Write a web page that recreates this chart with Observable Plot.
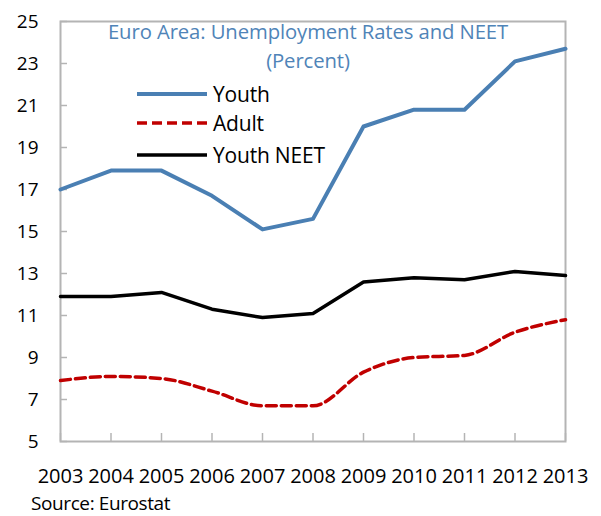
<!DOCTYPE html>
<html><head><meta charset="utf-8">
<script src="https://cdn.jsdelivr.net/npm/d3@7"></script>
<script src="https://cdn.jsdelivr.net/npm/@observablehq/plot@0.6"></script>
<style>
body{margin:0;background:#fff;font-family:"Open Sans",sans-serif;}
#wrap{position:relative;width:601px;height:516px;overflow:hidden;}
#title{position:absolute;left:60px;width:496px;top:16.5px;text-align:center;color:#4f84b8;font-size:20.3px;line-height:29px;letter-spacing:-0.1px;}
#source{position:absolute;left:31px;top:494px;font-size:19px;line-height:19px;color:#000;letter-spacing:-0.4px;}
#legend{position:absolute;left:0;top:0;}
</style>
</head><body>
<div id="wrap">
  <div id="chart"></div>
  <div id="title">Euro Area: Unemployment Rates and NEET<br>(Percent)</div>
  <svg id="legend" width="601" height="200"></svg>
  <div id="source">Source: Eurostat</div>
</div>
<script>
const years = [2003, 2004, 2005, 2006, 2007, 2008, 2009, 2010, 2011, 2012, 2013];
const youth = [17.0, 17.9, 17.9, 16.7, 15.1, 15.6, 20.0, 20.8, 20.8, 23.1, 23.7];
const adult = [7.9, 8.1, 8.0, 7.4, 6.7, 6.7, 8.3, 9.0, 9.1, 10.2, 10.8];
const youthNeet = [11.9, 11.9, 12.1, 11.3, 10.9, 11.1, 12.6, 12.8, 12.7, 13.1, 12.9];
const yTicks = [5, 7, 9, 11, 13, 15, 17, 19, 21, 23, 25];
const seriesNames = ["Youth", "Adult", "Youth NEET"];
const seriesColors = ["#4a7fb3", "#c00000", "#000000"];
const seriesDash = [null, "10,5", null];
const seriesWidth = [4, 3.5, 3.5];

const toRows = vals => years.map((y, i) => ({year: y, value: vals[i]}));

const axisColor = "#b4b4b4";
const plot = Plot.plot({
  width: 601,
  height: 516,
  marginTop: 21,
  marginBottom: 75,
  marginLeft: 60,
  marginRight: 36,
  style: {fontFamily: "Open Sans, sans-serif", background: "#fff"},
  x: {domain: [2003, 2013]},
  y: {domain: [5, 25]},
  marks: [
    Plot.frame({stroke: axisColor, strokeWidth: 2}),
    Plot.axisY({ticks: yTicks, tickSize: -7, tickPadding: 29, stroke: axisColor, strokeWidth: 1.5, fontSize: 19, color: "#000", label: null, tickFormat: d => String(d)}),
    Plot.axisX({ticks: years, tickSize: -8, tickPadding: 35, stroke: axisColor, strokeWidth: 1.5, fontSize: 20, color: "#000", label: null, tickFormat: d => String(d)}),
    Plot.line(toRows(youthNeet), {x: "year", y: "value", stroke: seriesColors[2], strokeWidth: seriesWidth[2]}),
    Plot.line(toRows(adult), {x: "year", y: "value", stroke: seriesColors[1], strokeWidth: seriesWidth[1], strokeDasharray: seriesDash[1], curve: "monotone-x"}),
    Plot.line(toRows(youth), {x: "year", y: "value", stroke: seriesColors[0], strokeWidth: seriesWidth[0]})
  ]
});
document.getElementById("chart").appendChild(plot);

// legend overlay
const leg = d3.select("#legend");
const rowsY = [94, 123, 155];
seriesNames.forEach((name, i) => {
  leg.append("line").attr("x1", 137).attr("x2", 207).attr("y1", rowsY[i]).attr("y2", rowsY[i])
    .attr("stroke", seriesColors[i]).attr("stroke-width", seriesWidth[i])
    .attr("stroke-dasharray", seriesDash[i]);
  leg.append("text").attr("x", 213).attr("y", rowsY[i] + 8).text(name)
    .attr("font-family", "Open Sans, sans-serif").attr("font-size", 21).attr("letter-spacing", -0.2).attr("fill", "#000");
});
</script>
</body></html>
